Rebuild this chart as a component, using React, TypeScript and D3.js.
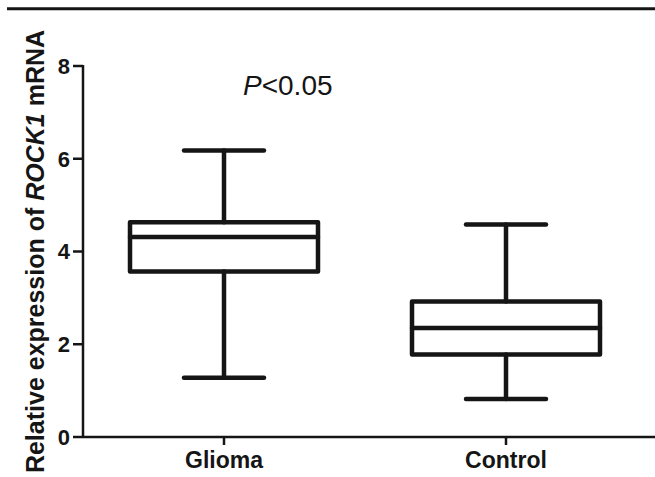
import React from "react";
import * as d3 from "d3";

const categories = ["Glioma", "Control"];
const whiskerLow = [1.28, 0.82];
const q1 = [3.57, 1.78];
const median = [4.31, 2.35];
const q3 = [4.63, 2.92];
const whiskerHigh = [6.18, 4.58];
const yTicks = [0, 2, 4, 6, 8];
const annotation = "<0.05";

const W = 655;
const H = 477;

export default function App() {
  const y = d3.scaleLinear().domain([0, 8]).range([437, 66]);
  const x = d3.scalePoint<string>().domain(categories).range([224, 506]);
  const boxHalf = 94;
  const capHalf = 40;
  const sw = 4.5;
  const col = "#151515";
  const font = "'Liberation Sans', Arial, sans-serif";
  const x0 = 83;

  return (
    <svg width={W} height={H} style={{ position: "absolute", left: 0, top: 0, background: "#fff" }} fontFamily={font}>
      <line x1={7} x2={655} y1={8.7} y2={8.7} stroke={col} strokeWidth={3} />
      {/* axes */}
      <line x1={x0} x2={x0} y1={y(8) - 1} y2={y(0)} stroke={col} strokeWidth={2.5} />
      <line x1={x0} x2={655} y1={y(0)} y2={y(0)} stroke={col} strokeWidth={2.5} />
      {yTicks.map((t) => (
        <g key={t}>
          <line x1={x0 - 10} x2={x0} y1={y(t)} y2={y(t)} stroke={col} strokeWidth={2.5} />
          <text x={x0 - 13} y={y(t)} dy="0.36em" textAnchor="end" fontSize={22} fontWeight="bold" fill={col}>
            {t}
          </text>
        </g>
      ))}
      {categories.map((c) => (
        <g key={c}>
          <line x1={x(c)!} x2={x(c)!} y1={y(0)} y2={y(0) + 8} stroke={col} strokeWidth={2.5} />
          <text x={x(c)!} y={468} textAnchor="middle" fontSize={23} fontWeight="bold" fill={col}>
            {c}
          </text>
        </g>
      ))}
      {/* boxes */}
      {categories.map((c, i) => {
        const cx = x(c)!;
        return (
          <g key={c} stroke={col} strokeWidth={sw} fill="none" strokeLinejoin="round" strokeLinecap="round">
            <line x1={cx} x2={cx} y1={y(whiskerHigh[i])} y2={y(q3[i])} />
            <line x1={cx} x2={cx} y1={y(q1[i])} y2={y(whiskerLow[i])} />
            <line x1={cx - capHalf} x2={cx + capHalf} y1={y(whiskerHigh[i])} y2={y(whiskerHigh[i])} />
            <line x1={cx - capHalf} x2={cx + capHalf} y1={y(whiskerLow[i])} y2={y(whiskerLow[i])} />
            <rect x={cx - boxHalf} y={y(q3[i])} width={boxHalf * 2} height={y(q1[i]) - y(q3[i])} />
            <line x1={cx - boxHalf} x2={cx + boxHalf} y1={y(median[i])} y2={y(median[i])} />
          </g>
        );
      })}
      <text x={243} y={95} fontSize={28} fill={col}>
        <tspan fontStyle="italic">P</tspan>
        {annotation}
      </text>
      <text
        transform={`translate(${44},${251.5}) rotate(-90)`}
        textAnchor="middle"
        fontSize={25}
        fontWeight="bold"
        fill={col}
      >
        Relative expression of <tspan fontStyle="italic">ROCK1</tspan> mRNA
      </text>
    </svg>
  );
}
